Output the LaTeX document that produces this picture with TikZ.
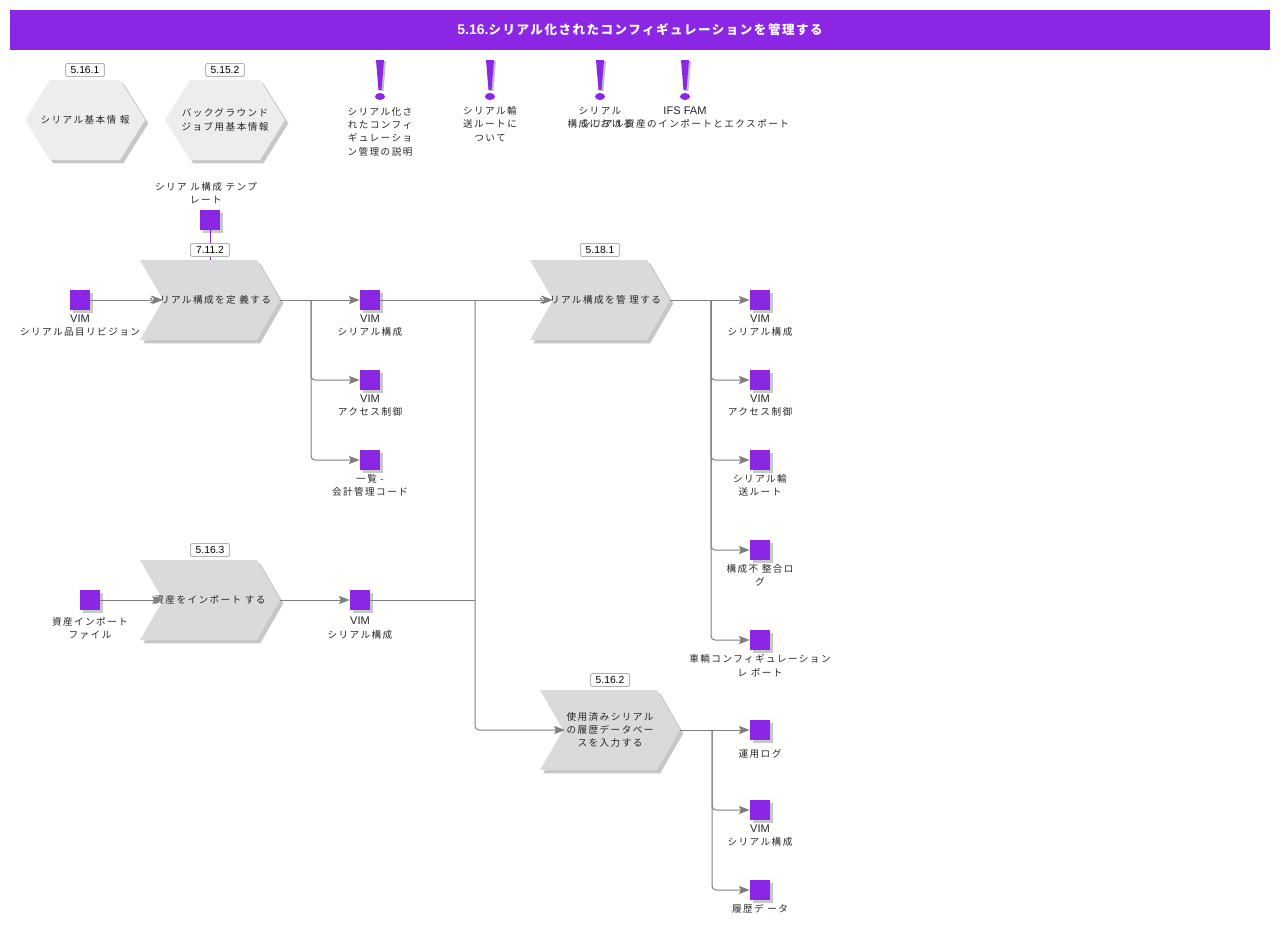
\documentclass[tikz,border=0pt]{standalone}
\usepackage{fontspec}
\setmainfont{Liberation Sans}
\newfontfamily\jpf[LetterSpace=15]{Noto Sans CJK JP}
\newfontfamily\jpb[LetterSpace=12]{Noto Sans CJK JP}
\usetikzlibrary{arrows.meta, positioning, shapes.symbols, shadows}
\definecolor{vimpurple}{HTML}{8A26E4}
\definecolor{chevgray}{HTML}{D9DADC}
\definecolor{hexgray}{HTML}{EDEDEB}
\definecolor{linegray}{HTML}{7F7F7F}
\newcommand{\lattxt}[1]{{\fontspec{Liberation Sans}\fontsize{8.3}{10}\selectfont #1}}

\tikzset{
    softshadow/.style={drop shadow={shadow xshift=2.5pt, shadow yshift=-2.5pt, fill=black, opacity=.22}},
    chevron/.style={signal, signal from=west, signal to=east, signal pointer angle=120, minimum width=105pt, minimum height=60pt, inner sep=0pt, fill=chevgray, softshadow},
    hexbox/.style={signal, signal to=west and east, signal pointer angle=116, minimum width=90pt, minimum height=60pt, inner sep=0pt, fill=hexgray, softshadow},
    intext/.style={inner sep=0pt, align=center, text=black!85, font=\jpf\fontsize{7.2}{10}\selectfont},
    datasq/.style={rectangle, minimum size=15pt, inner sep=0pt, fill=vimpurple, softshadow},
    captxt/.style={inner sep=0pt, align=center, text=black!85, font=\jpf\fontsize{7.2}{10}\selectfont},
    tag/.style={draw=black!45, line width=.4pt, fill=white, rounded corners=1.2pt, minimum width=29pt, minimum height=10pt, inner sep=0pt, font=\fontsize{7.7}{8}\selectfont},
    arrow/.style={-{Stealth[length=8pt, width=6pt, inset=1.2pt]}, linegray, line width=.75pt},
    wire/.style={linegray, line width=.75pt, rounded corners=3pt},
    warn/.pic={
        \fill[black!25] (-2,1) -- (6,1) -- (3.5,31) -- (0.5,31) -- cycle;
        \fill[vimpurple] (-4,0) -- (4,0) -- (1.5,30) -- (-1.5,30) -- cycle;
        \fill[vimpurple] (0,36.5) ellipse (5 and 3.5);
    }
}

\begin{document}
\begin{tikzpicture}[x=0.75pt, y=-0.75pt]
\useasboundingbox (0,0) rectangle (1280,926);

% Title
\node (title) [fill=vimpurple, text=white, minimum width=945pt, minimum height=30pt, inner sep=0pt] at (640,30)
    {\fontsize{10.5}{12}\selectfont\bfseries 5.16.{\jpb\fontsize{9.4}{12}\selectfont シリアル化されたコンフィギュレーションを管理する}};

% Hexagons
\node (basic) [hexbox, label={[intext]center:シリアル基本情 報}] at (85,120) {};
\node (jobs) [hexbox, label={[intext]center:バックグラウンド\\ジョブ用基本情報}] at (225,120) {};
\node (tagbasic) [tag] at (85,70) {5.16.1};
\node (tagjobs) [tag] at (225,70) {5.15.2};

% Warnings
\pic at (380,60) {warn};
\pic at (490,60) {warn};
\pic at (600,60) {warn};
\pic at (685,60) {warn};
\node (noteone) [captxt, anchor=north] at (380,107) {シリアル化さ\\れたコンフィ\\ギュレーショ\\ン管理の説明};
\node (notetwo) [captxt, anchor=north] at (490,106) {シリアル輸\\送ルートに\\ついて};
\node (notethree) [captxt, anchor=north] at (600,107) {シリアル\\構成における};
\node (notefour) [captxt, anchor=north] at (685,106) {\lattxt{IFS FAM}\\シリアル資産のインポートとエクスポート};

% Chevrons
\node (define) [chevron, label={[intext]center:シリアル構成を定 義する}] at (210,300) {};
\node (manage) [chevron, label={[intext]center:シリアル構成を管 理する}] at (600,300) {};
\node (import) [chevron, label={[intext]center:資産をインポート する}] at (210,600) {};
\node (history) [chevron, label={[intext]center:使用済みシリアル\\の履歴データベー\\スを入力する}] at (610,730) {};

% Data squares
\node (tmpl) [datasq] at (210,220) {};
\node (item) [datasq] at (80,300) {};
\node (cfgone) [datasq] at (370,300) {};
\node (aclone) [datasq] at (370,380) {};
\node (list) [datasq] at (370,460) {};
\node (file) [datasq] at (90,600) {};
\node (cfgtwo) [datasq] at (360,600) {};
\node (cfgthree) [datasq] at (760,300) {};
\node (acltwo) [datasq] at (760,380) {};
\node (route) [datasq] at (760,460) {};
\node (mismatch) [datasq] at (760,550) {};
\node (report) [datasq] at (760,640) {};
\node (oplog) [datasq] at (760,730) {};
\node (cfgfour) [datasq] at (760,810) {};
\node (hdata) [datasq] at (760,890) {};

% Captions
\node (tmpllab) [captxt, above=4pt of tmpl, xshift=-3pt] {シリア ル構成 テンプ\\レート};
\node (itemlab) [captxt, below=3pt of item] {\lattxt{VIM}\\シリアル品目リビジョン};
\node (cfgonelab) [captxt, below=3pt of cfgone] {\lattxt{VIM}\\シリアル構成};
\node (aclonelab) [captxt, below=3pt of aclone] {\lattxt{VIM}\\アクセス制御};
\node (listlab) [captxt, below=3pt of list] {一覧 -\\会計管理コード};
\node (filelab) [captxt, below=5pt of file] {資産インポート\\ファイル};
\node (cfgtwolab) [captxt, below=5pt of cfgtwo] {\lattxt{VIM}\\シリアル構成};
\node (cfgthreelab) [captxt, below=3pt of cfgthree] {\lattxt{VIM}\\シリアル構成};
\node (acltwolab) [captxt, below=3pt of acltwo] {\lattxt{VIM}\\アクセス制御};
\node (routelab) [captxt, below=3pt of route] {シリアル輸\\送ルート};
\node (mismatchlab) [captxt, below=3pt of mismatch] {構成不 整合ロ\\グ};
\node (reportlab) [captxt, below=3pt of report] {車輌コンフィギュレーション\\レ ポート};
\node (oploglab) [captxt, below=7pt of oplog] {運用ログ};
\node (cfgfourlab) [captxt, below=3pt of cfgfour] {\lattxt{VIM}\\シリアル構成};
\node (hdatalab) [captxt, below=3pt of hdata] {履歴デ ータ};

% Edges
\coordinate (defnotch) at (163,300);
\coordinate (mannotch) at (553,300);
\coordinate (impnotch) at (163,600);
\coordinate (hisnotch) at (565,730);
\coordinate (deftip) at (280,300);
\coordinate (mantip) at (670,300);
\coordinate (imptip) at (280,600);
\coordinate (histip) at (680,730);
\coordinate (busdef) at (311,300);
\coordinate (busmid) at (475,300);
\coordinate (busimp) at (475,600);
\coordinate (busman) at (711,300);
\coordinate (bushis) at (712,730);

\draw [vimpurple, line width=.75pt] (tmpl) -- (define.north);
\draw [arrow] (item) -- (defnotch);
\draw [arrow] (file) -- (impnotch);
\draw [arrow] (deftip) -- (cfgone);
\draw [arrow] (imptip) -- (cfgtwo);
\draw [arrow] (cfgone) -- (mannotch);
\draw [arrow] (mantip) -- (cfgthree);
\draw [arrow] (histip) -- (oplog);

\draw [arrow, rounded corners=3pt] (busdef) |- (aclone);
\draw [arrow, rounded corners=3pt] (busdef) |- (list);
\draw [wire] (cfgtwo.east) -- (busimp);
\draw [arrow, rounded corners=3pt] (busmid) |- (hisnotch);
\draw [arrow, rounded corners=3pt] (busman) |- (acltwo);
\draw [arrow, rounded corners=3pt] (busman) |- (route);
\draw [arrow, rounded corners=3pt] (busman) |- (mismatch);
\draw [arrow, rounded corners=3pt] (busman) |- (report);
\draw [arrow, rounded corners=3pt] (bushis) |- (cfgfour);
\draw [arrow, rounded corners=3pt] (bushis) |- (hdata);

% Number tags
\node (tagdefine) [tag] at (210,250) {7.11.2};
\node (tagmanage) [tag] at (600,250) {5.18.1};
\node (tagimport) [tag] at (210,550) {5.16.3};
\node (taghistory) [tag] at (610,680) {5.16.2};

\end{tikzpicture}
\end{document}
